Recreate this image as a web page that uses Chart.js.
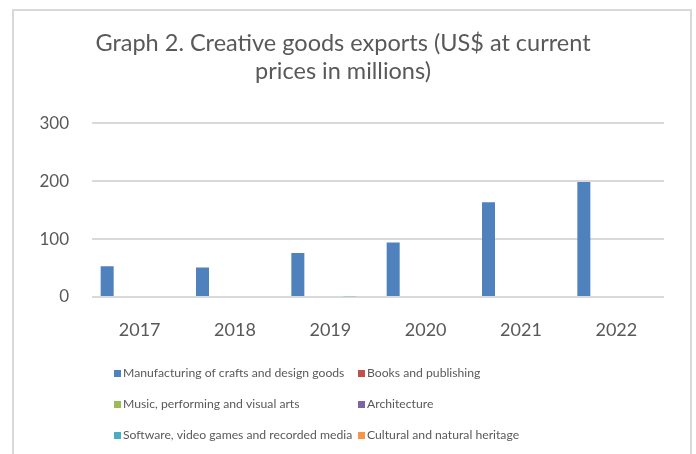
<!DOCTYPE html>
<html>
<head>
<meta charset="utf-8">
<script src="https://cdn.jsdelivr.net/npm/chart.js@4/dist/chart.umd.min.js"></script>
<style>
  html, body { margin: 0; padding: 0; background: #fff; }
  #wrap { position: relative; width: 696px; height: 454px; overflow: hidden; }
  #frame {
    position: absolute; left: 12px; top: 9px; width: 680px; height: 470px;
    border: 2px solid #d9d9d9; box-sizing: border-box; pointer-events: none;
  }
</style>
</head>
<body>
<div id="wrap">
  <canvas id="exportsChart" width="696" height="454"></canvas>
  <div id="frame"></div>
</div>
<script>
// 카테고리 / 시리즈 값 (US$ 백만)
var years = ["2017", "2018", "2019", "2020", "2021", "2022"];
var crafts = [53, 51, 76, 94, 164, 199];
var books = [0, 0, 0, 0, 0, 0];
var music = [0, 0, 0, 0, 0, 0];
var architecture = [0, 0, 0, 0, 0, 0];
var software = [0, 0, 1.5, 0, 0, 0];
var heritage = [0, 0, 0, 0, 0, 0];
var yTicks = [0, 100, 200, 300];

var textColor = "#595959";
var fontFamily = "Lato, 'Open Sans', sans-serif";

// 2열 범례 (엑셀 스타일)
var gridLegend = {
  id: "gridLegend",
  afterDraw: function (chart) {
    var ctx = chart.ctx;
    var cols = [114, 358];
    var rows = [373, 404, 435];
    ctx.save();
    ctx.font = "12.2px " + fontFamily;
    ctx.textBaseline = "middle";
    ctx.textAlign = "left";
    chart.data.datasets.forEach(function (ds, i) {
      var x = cols[i % 2];
      var y = rows[Math.floor(i / 2)];
      ctx.fillStyle = ds.backgroundColor;
      ctx.fillRect(x, y - 3, 7, 7);
      ctx.fillStyle = textColor;
      ctx.fillText(ds.label, x + 9, y);
    });
    ctx.restore();
  },
};

var ctx = document.getElementById("exportsChart").getContext("2d");
var chart = new Chart(ctx, {
  type: "bar",
  data: {
    labels: years,
    datasets: [
      { label: "Manufacturing of crafts and design goods", data: crafts, backgroundColor: "#4f81bd" },
      { label: "Books and publishing", data: books, backgroundColor: "#c0504d" },
      { label: "Music, performing and visual arts", data: music, backgroundColor: "#9bbb59" },
      { label: "Architecture", data: architecture, backgroundColor: "#8064a2" },
      { label: "Software, video games and recorded media", data: software, backgroundColor: "#4bacc6" },
      { label: "Cultural and natural heritage", data: heritage, backgroundColor: "#f79646" },
    ],
  },
  options: {
    responsive: false,
    animation: false,
    layout: { padding: { left: 22, right: 32, top: 0, bottom: 100 } },
    datasets: {
      bar: { barPercentage: 1, categoryPercentage: 0.818 },
    },
    plugins: {
      legend: { display: false },
      tooltip: { enabled: false },
      title: {
        display: true,
        text: ["Graph 2. Creative goods exports (US$ at current", "prices in millions)"],
        color: textColor,
        font: { family: fontFamily, size: 23.5, weight: "normal", lineHeight: 1.18 },
        padding: { top: 30, bottom: 38 },
      },
    },
    scales: {
      x: {
        grid: { display: false },
        border: { display: false },
        ticks: { color: textColor, font: { family: fontFamily, size: 18 }, padding: 14, maxRotation: 0 },
        afterFit: function (scale) { scale.height = 57; },
      },
      y: {
        min: 0,
        max: 300,
        afterBuildTicks: function (scale) {
          scale.ticks = yTicks.map(function (v) { return { value: v }; });
        },
        grid: { color: "#d9d9d9", lineWidth: 2, drawTicks: false },
        border: { display: false },
        ticks: { color: textColor, font: { family: fontFamily, size: 17 }, padding: 23 },
        afterFit: function (scale) { scale.width = 70; },
      },
    },
  },
  plugins: [gridLegend],
});
</script>
</body>
</html>
